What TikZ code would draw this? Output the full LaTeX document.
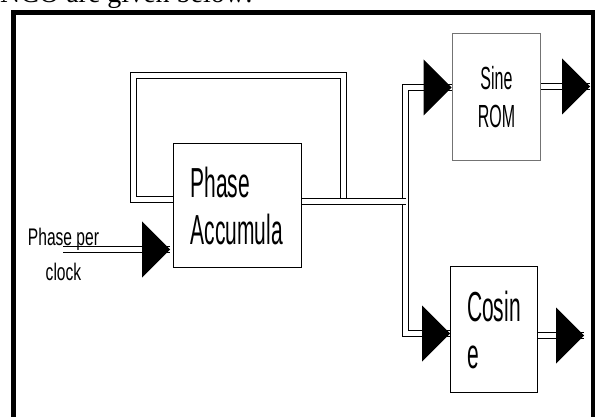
\documentclass[tikz,border=0pt]{standalone}
\usepackage{fontspec}
\setmainfont{Liberation Serif}
\newfontfamily\boxfont[FakeStretch=0.5]{Liberation Sans}
\newfontfamily\labfont[FakeStretch=0.65]{Liberation Sans}
\usetikzlibrary{calc}
\definecolor{RomClr}{gray}{0.45}
\newcommand{\bigtip}[1]{\fill (#1) -- ++(-28,-28) -- ++(0,56) -- cycle;}

\begin{document}
\begin{tikzpicture}[x=1pt,y=-1pt,
  blk/.style={draw=black,line width=1pt,fill=white,inner sep=0pt,
    font=\boxfont\fontsize{42}{47}\selectfont},
  bus/.style={double,double distance=5pt,line width=1.2pt},
  frame/.style={line width=5pt}]
\useasboundingbox (0,0) rectangle (595,417);
\clip (0,0) rectangle (595,417);

\node[anchor=base west,inner sep=0pt,font=\fontsize{28}{32}\selectfont] (intro) at (0,3) {NCO are given below:};
\draw[frame] (13,430) -- (13,12.5) -- (593,12.5) -- (593,430);

% blocks
\node[blk,minimum width=128pt,minimum height=124pt,text width=94pt,align=left] (acc) at (237.5,205.5) {Phase\\Accumula};
\node[blk,draw=RomClr,line width=1.6pt,minimum width=88pt,minimum height=127pt,align=center,
  font=\boxfont\fontsize{32}{38}\selectfont] (sine) at (496.5,97) {Sine\\ROM};
\node[blk,minimum width=87pt,minimum height=126pt,text width=54pt,align=left] (cos) at (494,329.5) {Cosin\\e};

\coordinate (inStart) at (63,249.5);
\coordinate (inTip) at (170,249.5);
\coordinate (accIn) at ($(acc.west)+(0,-6)$);
\coordinate (accOut) at ($(acc.east)+(0,-4)$);
\coordinate (tap) at (343.5,201.5);
\coordinate (fbTop) at (133.5,75.5);
\coordinate (split) at (405.5,201.5);
\coordinate (sineTip) at ($(sine.west)+(0,-9.5)$);
\coordinate (cosTip) at ($(cos.west)+(0,4)$);
\coordinate (sineEnd) at (590,86.5);
\coordinate (cosEnd) at (584,335.5);

% buses
\draw[bus] (inStart) -- (inTip);
\node[inner sep=0pt,align=center,font=\labfont\fontsize{24}{35}\selectfont] (rate) at (63.5,254) {Phase per\\clock};
\draw[bus] (tap) |- (fbTop) |- (accIn);
\draw[bus] (sineTip) -| (split) |- (cosTip);
\draw[bus] (accOut) -- (split);
\draw[bus] (sine.east |- sineEnd) -- (sineEnd);
\draw[bus] (cos.east |- cosEnd) -- (cosEnd);

% heads
\bigtip{inTip}
\bigtip{sineTip}
\bigtip{cosTip}
\bigtip{sineEnd}
\bigtip{cosEnd}
\end{tikzpicture}
\end{document}
